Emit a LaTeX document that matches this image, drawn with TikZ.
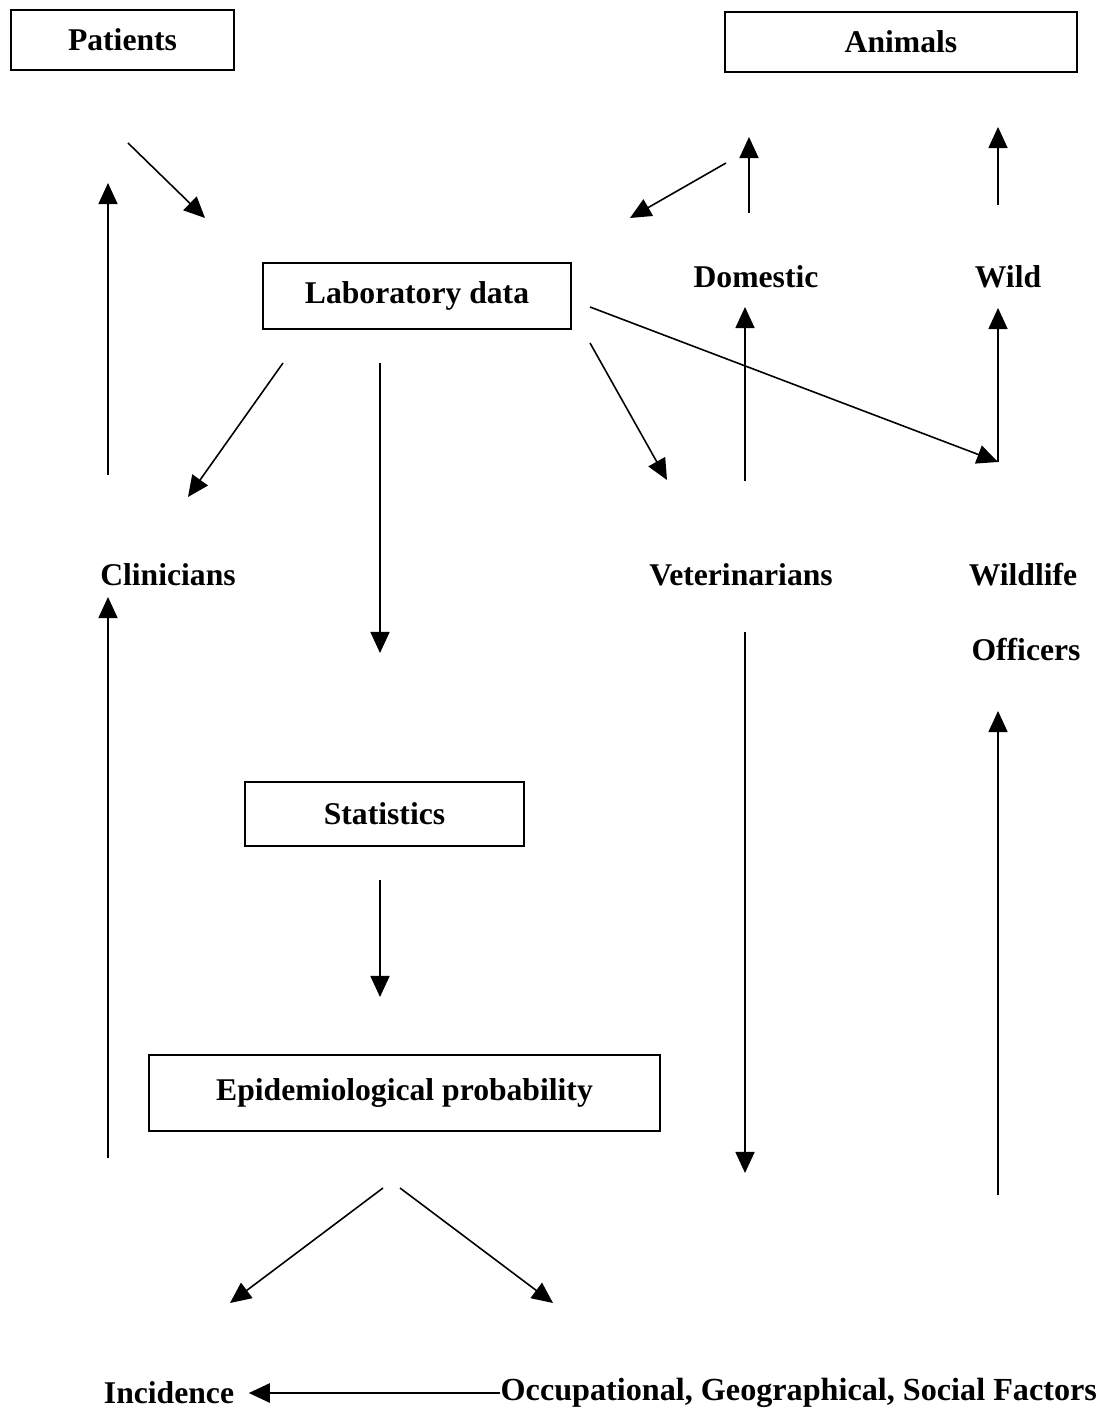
\documentclass[tikz,border=0pt]{standalone}
\usepackage{fontspec}
\setmainfont{Liberation Serif}
\usetikzlibrary{arrows.meta}

\begin{document}
\begin{tikzpicture}[x=0.01cm, y=-0.01cm,
  every node/.style={font=\fontsize{9}{11}\selectfont\bfseries, inner sep=0pt},
  box/.style={draw, line width=0.6pt},
  arr/.style={-{Triangle[length=0.21cm,width=0.19cm]}, line width=0.45pt}]
\useasboundingbox (0,0) rectangle (1105,1410);

\node[box, minimum width=2.23cm, minimum height=0.6cm] (patients) at (122.5,40) {Patients};
\node[box, minimum width=3.52cm, minimum height=0.6cm] (animals) at (901,42) {Animals};
\node[box, minimum width=3.08cm, minimum height=0.66cm] (labdata) at (417,296) {Laboratory data};
\node[box, minimum width=2.79cm, minimum height=0.64cm] (stats) at (384.5,814) {Statistics};
\node[box, minimum width=5.11cm, minimum height=0.76cm] (epiprob) at (404.5,1093) {Epidemiological probability};

\node (domestic) at (756,277) {Domestic};
\node (wild) at (1008,277) {Wild};
\node (clinicians) at (168,575) {Clinicians};
\node (vets) at (741,575) {Veterinarians};
\node (wildlife) at (1023,575) {Wildlife};
\node (officers) at (1026,650) {Officers};
\node (incidence) at (169,1393) {Incidence};
\node[anchor=west, font=\fontsize{9.15}{11}\selectfont\bfseries] (factors) at (500,1393) {Occupational, Geographical, Social Factors};

\coordinate (a1) at (128,143);  \coordinate (b1) at (205,218);
\coordinate (a2) at (108,475);  \coordinate (b2) at (108,183);
\coordinate (a3) at (283,363);  \coordinate (b3) at (188,497);
\coordinate (a4) at (380,363);  \coordinate (b4) at (380,653);
\coordinate (a5) at (590,343);  \coordinate (b5) at (667,480);
\coordinate (a6) at (590,307);  \coordinate (b6) at (998,462);
\coordinate (b7) at (998,308);
\coordinate (a8) at (745,481);  \coordinate (b8) at (745,307);
\coordinate (a9) at (749,213);  \coordinate (b9) at (749,137);
\coordinate (a10) at (726,163); \coordinate (b10) at (630,218);
\coordinate (a11) at (998,205); \coordinate (b11) at (998,127);
\coordinate (a12) at (108,1158); \coordinate (b12) at (108,597);
\coordinate (a13) at (380,880); \coordinate (b13) at (380,997);
\coordinate (a14) at (745,632); \coordinate (b14) at (745,1173);
\coordinate (a15) at (998,1195); \coordinate (b15) at (998,711);
\coordinate (a16) at (383,1188); \coordinate (b16) at (230,1303);
\coordinate (a17) at (400,1188); \coordinate (b17) at (553,1303);

\draw[arr] (a1) -- (b1);
\draw[arr] (a2) -- (b2);
\draw[arr] (a3) -- (b3);
\draw[arr] (a4) -- (b4);
\draw[arr] (a5) -- (b5);
\draw[arr] (a6) -- (b6);
\draw[arr] (b6) -- (b7);
\draw[arr] (a8) -- (b8);
\draw[arr] (a9) -- (b9);
\draw[arr] (a10) -- (b10);
\draw[arr] (a11) -- (b11);
\draw[arr] (a12) -- (b12);
\draw[arr] (a13) -- (b13);
\draw[arr] (a14) -- (b14);
\draw[arr] (a15) -- (b15);
\draw[arr] (a16) -- (b16);
\draw[arr] (a17) -- (b17);
\draw[arr, line width=0.7pt] (factors.west) -- ([xshift=0.14cm]incidence.east);
\end{tikzpicture}
\end{document}
